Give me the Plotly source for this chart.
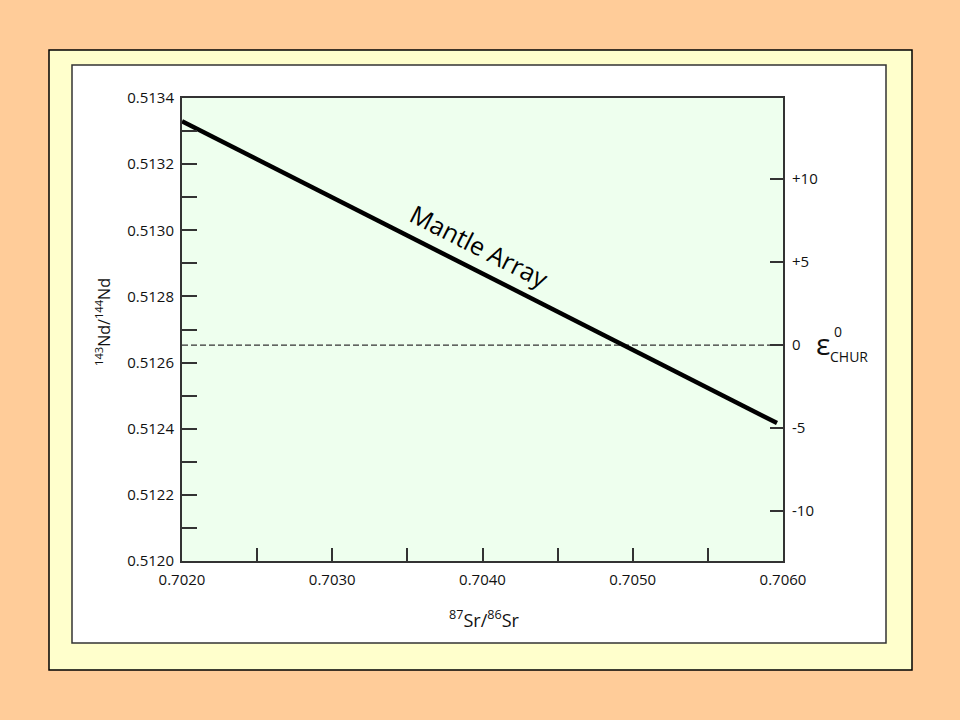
import plotly.graph_objects as go

# Data
mantle_sr = [0.7020, 0.70596]
mantle_nd = [0.51333, 0.512417]
chur_nd = 0.512653
x_range = [0.7020, 0.7060]
y_range = [0.5120, 0.5134]

x_tickvals = [0.7020, 0.7030, 0.7040, 0.7050, 0.7060]
x_ticktext = ["0.7020", "0.7030", "0.7040", "0.7050", "0.7060"]
x_minor_step = 0.0005
y_tickvals = [0.5120, 0.5122, 0.5124, 0.5126, 0.5128, 0.5130, 0.5132, 0.5134]
y_ticktext = ["0.5120", "0.5122", "0.5124", "0.5126", "0.5128", "0.5130", "0.5132", "0.5134"]
y_minor_step = 0.0001
eps_tickvals = [-10, -5, 0, 5, 10]
eps_ticktext = ["-10", "-5", "0", "+5", "+10"]
eps_range = [-13.01, 14.88]

W, H = 960, 720
L, R, T, B = 182, 783, 98, 561
pw, ph = R - L, B - T


def px(x):
    return (x - L) / pw


def py(y):
    return (B - y) / ph


FONT = "Open Sans, Lato, sans-serif"
TXT = "#111111"
AX = "#333333"

fig = go.Figure()
fig.add_trace(go.Scatter(x=x_range, y=[chur_nd, chur_nd], mode="lines",
                         line=dict(color="#333333", width=1.2, dash="6px,3px"),
                         hoverinfo="skip", showlegend=False))
fig.add_trace(go.Scatter(x=mantle_sr, y=mantle_nd, mode="lines",
                         line=dict(color="black", width=4.5),
                         showlegend=False))
# invisible trace for the secondary axis
fig.add_trace(go.Scatter(x=[x_range[0]], y=[0], yaxis="y2", mode="markers",
                         marker=dict(opacity=0), hoverinfo="skip", showlegend=False))

shapes = [
    dict(type="rect", xref="paper", yref="paper", x0=px(49), x1=px(912), y0=py(670), y1=py(50),
         fillcolor="#FFFFCC", line=dict(color="black", width=1.5), layer="below"),
    dict(type="rect", xref="paper", yref="paper", x0=px(72), x1=px(886), y0=py(643), y1=py(65),
         fillcolor="white", line=dict(color=AX, width=1.5), layer="below"),
    dict(type="rect", xref="paper", yref="paper", x0=0, x1=1, y0=0, y1=1,
         fillcolor="#EEFFEE", line=dict(width=0), layer="below"),
]


def ann(text, x, y, size, xref="paper", yref="paper", angle=0, family=FONT, color=TXT):
    return dict(text=text, x=x, y=y, xref=xref, yref=yref, showarrow=False,
                xanchor="center", yanchor="middle", textangle=angle,
                font=dict(family=family, size=size, color=color))


annotations = [
    ann("Mantle Array", 0.703983, 0.512952, 25, xref="x", yref="y", angle=27, color="black"),
    ann("<sup>87</sup>Sr/<sup>86</sup>Sr", px(484), py(619), 18),
    ann("<sup>143</sup>Nd/<sup>144</sup>Nd", px(103), py(322), 16, angle=-90),
    ann("ε", px(823), py(343), 30),
    ann("0", px(838), py(331), 14),
    ann("CHUR", px(849), py(356), 14),
]

fig.update_layout(
    width=W, height=H,
    margin=dict(l=L, r=W - R, t=T, b=H - B, autoexpand=False),
    paper_bgcolor="#FFCC99",
    plot_bgcolor="rgba(0,0,0,0)",
    shapes=shapes,
    annotations=annotations,
    font=dict(family=FONT, size=15, color=TXT),
    xaxis=dict(range=x_range, tickvals=x_tickvals, ticktext=x_ticktext,
               ticks="inside", ticklen=13, tickwidth=1.5, tickcolor=AX,
               minor=dict(tick0=x_range[0], dtick=x_minor_step, ticks="inside",
                          ticklen=13, tickwidth=1.5, tickcolor=AX, showgrid=False),
               ticklabelstandoff=4,
               showline=True, linecolor=AX, linewidth=2, mirror=True,
               showgrid=False, zeroline=False, tickfont=dict(size=15, color=TXT)),
    yaxis=dict(range=y_range, tickvals=y_tickvals, ticktext=y_ticktext,
               ticks="inside", ticklen=15, tickwidth=1.5, tickcolor=AX,
               minor=dict(tick0=y_range[0], dtick=y_minor_step, ticks="inside",
                          ticklen=15, tickwidth=1.5, tickcolor=AX, showgrid=False),
               ticklabelstandoff=3,
               showline=True, linecolor=AX, linewidth=2, mirror=True,
               showgrid=False, zeroline=False, tickfont=dict(size=15, color=TXT)),
    yaxis2=dict(range=eps_range, overlaying="y", side="right",
                tickvals=eps_tickvals, ticktext=eps_ticktext,
                ticks="inside", ticklen=13, tickwidth=1.5, tickcolor=AX,
                ticklabelstandoff=8,
                showline=False, showgrid=False, zeroline=False,
                tickfont=dict(size=15, color=TXT)),
)

fig.write_html("out.html", config={"displayModeBar": False},
               post_script="document.body.style.margin='0px';document.body.style.overflow='hidden';")
